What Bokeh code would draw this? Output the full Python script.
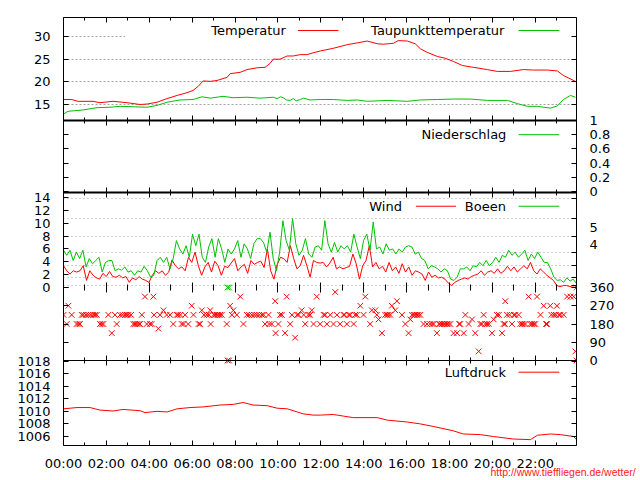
import numpy as np
from bokeh.plotting import figure
from bokeh.models import Range1d, LinearAxis, FixedTicker, Label, Arrow, Grid, BoxAnnotation, Title
from bokeh.embed import file_html
from bokeh.resources import INLINE

# ---------------- data ----------------
T_END = 23.92  # last sample of the day (hours)

hour_ticks = [0, 2, 4, 6, 8, 10, 12, 14, 16, 18, 20, 22]
hour_labels = ["00:00", "02:00", "04:00", "06:00", "08:00", "10:00",
               "12:00", "14:00", "16:00", "18:00", "20:00", "22:00"]
hour_minor = list(range(0, 24))

temp_hours = [0.0, 0.38, 0.68, 1.38, 1.70, 2.31, 2.96, 3.57, 3.90, 4.36, 4.83, 5.30,
              5.76, 6.04, 6.28, 6.51, 6.84, 7.16, 7.63, 7.77, 8.24, 8.56, 9.03, 9.40,
              9.64, 9.78, 10.10, 10.43, 10.71, 11.04, 11.36, 11.64, 11.97, 12.58, 13.23,
              13.70, 14.16, 14.63, 14.91, 15.38, 15.61, 16.03, 16.40, 16.64, 16.96, 17.43,
              17.80, 18.18, 18.60, 19.11, 19.76, 20.23, 20.84, 21.44, 21.91, 22.56, 23.03,
              23.31, 23.87]
temp_values = [16.1, 16.1, 15.7, 15.7, 15.4, 15.7, 15.4, 15.0, 15.1, 15.5, 16.3, 17.0,
               17.6, 18.1, 19.0, 20.2, 20.1, 20.3, 21.0, 21.8, 22.1, 22.7, 23.1, 23.2,
               24.1, 25.0, 25.0, 25.7, 25.7, 26.0, 26.0, 26.4, 26.8, 27.4, 28.2,
               28.6, 29.0, 28.4, 28.3, 28.5, 29.1, 29.0, 28.4, 27.3, 26.5, 25.6,
               25.2, 24.5, 23.6, 23.2, 22.7, 22.3, 22.3, 22.7, 22.6, 22.6, 22.4,
               21.4, 20.1]

dew_hours = [0.0, 0.21, 0.91, 1.56, 2.17, 2.64, 3.24, 3.90, 4.36, 4.83, 5.43, 6.04,
             6.46, 6.84, 7.44, 7.91, 8.56, 9.17, 9.78, 9.96, 10.12, 10.24, 10.40, 10.57,
             10.71, 10.85, 11.04, 11.20, 11.50, 11.97, 12.58, 13.23, 13.70, 14.16, 15.10,
             16.03, 16.64, 17.43, 18.18, 18.97, 19.76, 20.70, 21.16, 21.63, 22.10, 22.70,
             23.03, 23.31, 23.64, 23.87]
dew_values = [12.9, 13.5, 13.8, 14.3, 14.4, 14.6, 14.5, 14.4, 14.8, 15.5, 16.0, 16.1,
              16.7, 16.4, 16.8, 16.5, 16.6, 16.4, 16.6, 16.3, 16.7, 16.5, 16.0, 15.9,
              16.3, 15.8, 16.1, 16.4, 16.0, 16.1, 16.1, 15.9, 16.0, 15.7, 15.9,
              15.7, 16.0, 16.1, 16.2, 16.2, 15.9, 15.9, 15.2, 14.6, 14.6, 14.2,
              14.7, 16.1, 17.0, 16.6]

press_hours = [0.0, 0.63, 1.24, 1.70, 2.31, 2.78, 3.57, 3.80, 4.36, 4.83, 5.30, 5.90,
               6.51, 7.30, 7.91, 8.38, 8.84, 9.50, 9.96, 10.43, 10.90, 11.18, 11.64,
               11.97, 12.58, 13.04, 13.51, 14.63, 15.10, 16.03, 16.64, 17.24, 18.18,
               18.64, 19.44, 20.04, 20.97, 21.77, 22.10, 22.70, 23.17, 23.78, 23.92]
press_values = [1010.4, 1010.6, 1010.6, 1010.2, 1010.05, 1010.3, 1010.1, 1009.8, 1010.0,
                1009.9, 1010.4, 1010.6, 1010.7, 1011.0, 1011.1, 1011.4, 1011.0, 1010.9,
                1010.5, 1010.4, 1009.9, 1009.6, 1009.4, 1009.4, 1009.5, 1009.25, 1009.0,
                1009.0, 1008.6, 1008.3, 1008.0, 1007.6, 1006.9, 1006.4, 1006.3, 1006.0,
                1005.6, 1005.5, 1006.2, 1006.4, 1006.3, 1006.0, 1005.5]

# wind speed and gusts (m/s), samples evenly spread over the day
wind_values = [3.4, 2.6, 2.1, 2.6, 2.4, 2.6, 3.4, 1.1, 2.6, 1.9,
               1.5, 1.3, 2.2, 1.7, 2.5, 1.7, 1.6, 1.9, 1.5, 1.7,
               0.8, 1.5, 1.2, 1.7, 1.3, 1.1, 0.8, 1.9, 2.6, 2.2,
               2.6, 1.9, 2.4, 4.3, 3.4, 2.9, 3.2, 2.6, 4.7, 3.9,
               5.5, 3.4, 1.9, 3.2, 3.9, 2.4, 4.1, 3.4, 1.9, 3.3,
               3.1, 3.8, 4.5, 2.6, 3.2, 3.6, 2.2, 4.2, 3.6, 3.9,
               4.1, 3.1, 6.0, 2.6, 1.3, 3.6, 4.7, 4.5, 3.9, 6.5,
               4.5, 2.9, 3.4, 5.0, 3.4, 1.6, 4.2, 3.9, 3.8,
               3.9, 3.2, 3.8, 4.7, 2.9, 3.2, 2.9, 3.1, 3.3,
               5.2, 3.7, 1.3, 3.4, 4.2, 6.5, 3.2, 3.9, 2.9, 3.3,
               2.4, 3.9, 2.6, 3.2, 2.2, 3.7, 2.4, 3.2, 1.9, 2.6,
               2.4, 2.1, 1.1, 2.4, 1.6, 1.9, 1.5, 1.6, 1.3, 0.7,
               0.3, 0.8, 1.1, 1.3, 1.5, 1.3, 1.7, 1.9, 2.1, 2.6,
               1.9, 2.4, 2.6, 2.2, 2.9, 2.2, 2.6, 3.3, 2.6, 3.2,
               2.4, 2.9, 3.4, 2.9, 3.9, 2.6, 2.1, 2.9, 2.4, 1.9,
               1.5, 1.1, 0.3, 0.15, 0.3, 0.3, 0.15, 0.05, 0.05]
gust_values = [5.8, 5.0, 5.8, 4.2, 5.5, 4.5, 5.8, 3.2, 4.5, 3.7,
               4.2, 4.7, 2.4, 3.9, 4.2, 4.2, 2.6, 2.9, 2.7, 3.2,
               2.4, 2.6, 1.9, 2.6, 2.4, 3.3, 2.6, 1.6, 1.9, 4.2,
               4.7, 3.9, 4.7, 2.9, 4.5, 7.3, 6.0, 5.2, 6.5, 4.7,
               8.3, 6.5, 8.3, 4.7, 3.9, 6.3, 7.6, 4.7, 7.6, 6.0,
               3.9, 6.0, 5.2, 6.0, 7.3, 4.7, 6.8, 6.0, 4.5, 6.8,
               7.6, 7.6, 7.0, 5.5, 8.6, 4.5, 2.6, 5.5, 10.4, 7.3,
               5.8, 10.7, 6.8, 5.0, 5.8, 7.6, 5.2, 4.7, 6.3, 6.5, 5.8,
               10.4, 6.8, 5.5, 7.0, 5.5, 6.5, 6.0, 6.5, 5.5, 8.3,
               6.3, 4.5, 7.3, 8.3, 5.8, 10.2, 6.0, 6.3, 5.2, 6.8,
               5.8, 6.0, 5.2, 6.0, 5.5, 6.3, 6.5, 6.3, 5.2, 5.5,
               4.5, 4.2, 2.9, 3.4, 3.2, 2.9, 2.4, 2.9, 2.6, 1.3,
               1.1, 1.6, 2.9, 2.9, 3.2, 2.6, 3.4, 3.2, 3.9, 3.4,
               4.2, 3.4, 3.9, 4.7, 3.9, 5.0, 4.7, 5.8, 5.0, 5.5,
               4.7, 5.2, 5.8, 4.2, 5.2, 4.5, 5.5, 4.7, 3.9, 3.9,
               2.9, 1.6, 1.1, 1.2, 0.8, 1.5, 1.0, 1.3, 0.6]

# wind direction (degrees)
dir_hours = [0.0, 0.23, 0.15, 0.38, 0.61, 0.77, 0.93, 1.16, 1.39, 1.55, 1.70, 1.86,
             2.09, 2.25, 2.40, 2.48, 2.64, 2.87, 3.03, 3.26, 3.41, 3.57, 3.65, 3.80,
             3.88, 4.11, 4.19, 4.22, 4.42, 4.50, 4.66, 4.81, 4.97, 5.12, 5.28, 5.51,
             5.67, 5.82, 5.98, 6.06, 6.37, 6.45, 6.68, 6.84, 6.86, 7.07, 7.22, 7.38,
             7.61, 7.65, 7.72, 7.77, 7.85, 7.92, 8.08, 8.24, 8.39, 8.55, 8.78, 9.01,
             9.25, 9.40, 9.56, 9.71, 9.87, 9.89, 10.02, 10.18, 10.33, 10.41, 10.57,
             10.65, 10.80, 10.96, 11.11, 11.27, 11.42, 11.58, 11.66, 11.81,
             11.97, 12.13, 12.28, 12.44, 12.59, 12.67, 12.75, 12.90, 13.06, 13.21,
             13.37, 13.53, 13.68, 13.84, 13.99, 14.07, 14.30, 14.38, 14.54, 14.61,
             14.69, 14.85, 15.08, 15.24, 15.31, 15.47, 15.55, 15.78, 15.94, 16.09,
             16.17, 16.33, 16.48, 16.64, 16.79, 16.95, 17.10, 17.26, 17.41, 17.57,
             17.73, 17.88, 18.04, 18.19, 18.35, 18.50, 18.66, 18.74, 18.89, 19.05,
             19.20, 19.36, 19.44, 19.59, 19.67, 19.83, 19.98, 20.06, 20.21, 20.45,
             20.52, 20.60, 20.68, 20.91, 21.07, 21.22, 21.38, 21.54, 21.69, 21.77,
             21.93, 22.08, 22.24, 22.39, 22.55, 22.70, 22.86, 23.01, 23.17, 23.32,
             23.48, 23.64, 23.79, 23.87, 23.92,
             0.70, 0.85, 1.05, 1.27, 1.47, 1.78, 2.75, 2.95, 3.15, 3.33, 3.50, 4.03,
             5.35, 5.45, 5.60, 6.30, 6.55, 6.78, 7.00, 7.15, 7.30, 8.65, 8.90, 9.13,
             9.33, 9.60, 10.10, 10.90, 11.20, 11.50, 12.20, 13.10, 13.30, 13.60,
             15.00, 15.15, 16.25, 16.40, 16.55, 17.20, 17.50, 17.65, 17.80, 17.95,
             18.45, 19.50, 19.75, 20.30, 20.58, 20.80, 21.00, 21.30, 21.45, 21.85,
             22.00, 22.50, 22.75, 22.95, 23.10]
dir_values = [225, 270, 180, 225, 180, 180, 225, 225, 225, 225, 180, 180,
              225, 135, 225, 180, 225, 225, 225, 180, 180, 180, 225, 315,
              180, 180, 315, 225, 157.5, 225, 247.5, 225, 225, 180, 225, 180,
              225, 180, 270, 225, 180, 247.5, 225, 247.5, 180, 225, 225, 225,
              180, 0, 0, 270, 225, 247.5, 225, 315, 180, 225, 225, 225,
              225, 180, 225, 180, 292.5, 135, 180, 225, 135, 315, 180,
              225, 112.5, 225, 247.5, 180, 225, 247.5, 180, 315,
              180, 225, 180, 225, 180, 337.5, 225, 180, 225, 180,
              225, 180, 225, 270, 225, 315, 180, 247.5, 247.5, 225,
              202.5, 135, 225, 225, 270, 247.5, 292.5, 225, 180, 135,
              202.5, 225, 225, 225, 180, 180, 180, 180, 135, 180,
              180, 180, 180, 135, 135, 180, 135, 225, 180, 202.5,
              135, 45, 180, 225, 180, 180, 135, 202.5, 225, 135,
              180, 292.5, 225, 180, 225, 225, 180, 180, 315, 180,
              180, 315, 225, 270, 180, 270, 225, 270, 225, 225,
              315, 315, 315, 45, 0,
              180, 225, 225, 225, 225, 180, 225, 225, 225, 180, 180, 180,
              225, 225, 180, 180, 225, 225, 225, 225, 225, 225, 225, 225,
              225, 180, 225, 225, 225, 225, 225, 225, 225, 225,
              225, 225, 225, 225, 225, 180, 180, 180, 180, 180,
              180, 180, 180, 225, 180, 225, 225, 180, 180, 180,
              180, 180, 225, 225, 225]
gustdir_hours = [7.65, 7.72, 23.92]
gustdir_values = [360, 360, 360]

# axis ticks / labels
temp_ticks = [15, 20, 25, 30]
temp_labels = ["15", "20", "25", "30"]
precip_ticks = [0, 0.2, 0.4, 0.6, 0.8, 1]
precip_labels = ["0", "0.2", "0.4", "0.6", "0.8", "1"]
wind_ticks = [0, 2, 4, 6, 8, 10, 12, 14]
wind_labels = ["0", "2", "4", "6", "8", "10", "12", "14"]
bft_limits = [0.3, 1.6, 3.4, 5.5, 8.0, 10.8, 13.9]
bft_centres = [6.7, 9.35]
bft_labels = ["4", "5"]
dir_ticks = [0, 90, 180, 270, 360]
dir_labels = ["0", "90", "180", "270", "360"]
press_ticks = [1006, 1008, 1010, 1012, 1014, 1016, 1018]
press_labels = ["1006", "1008", "1010", "1012", "1014", "1016", "1018"]

url_text = "http://www.tieffliegen.de/wetter/"

# ---------------- style / layout ----------------
FONT = "DejaVu Sans"
FS = "13px"
RED = "#ff0000"
GREEN = "#00c000"
FRAME_H = 428

p = figure(width=None, height=None, frame_width=513, frame_height=FRAME_H,
           min_border_left=63, min_border_right=64,
           min_border_top=17, min_border_bottom=35,
           x_range=Range1d(0, T_END), y_range=Range1d(FRAME_H, 0),
           x_axis_location=None, y_axis_location=None, title=None,
           toolbar_location=None, output_backend="svg",
           outline_line_color="black", outline_line_width=1,
           background_fill_color="white", border_fill_color="white")
p.center = [r for r in p.center if not isinstance(r, Grid)]


def panel_range(v1, p1, v2, p2):
    s = (v2 - v1) / (p2 - p1)
    return Range1d(start=v1 + (FRAME_H - p1) * s, end=v1 - p1 * s)


def val_at(rng, px):
    return rng.end + (rng.start - rng.end) * px / FRAME_H


def px_of(name, v):
    rng = ranges[name]
    return (rng.end - v) / (rng.end - rng.start) * FRAME_H


ranges = {
    "temp": panel_range(15, 87, 30, 19),
    "precip": panel_range(0, 174, 1, 103),
    "wind": panel_range(0, 270, 14, 180),
    "dir": panel_range(0, 343, 360, 270),
    "press": panel_range(1006, 419, 1018, 343.5),
}
panel_px = {"temp": (0, 103), "precip": (103, 175), "wind": (175, 270),
            "dir": (270, 343), "press": (343, 428)}
p.extra_y_ranges = ranges


def bounds_of(name):
    a, b = panel_px[name]
    v1, v2 = val_at(ranges[name], a - 0.5), val_at(ranges[name], b + 0.5)
    return (min(v1, v2), max(v1, v2))


def ytick_axis(name, side, ticks, tick_len=5):
    ax = LinearAxis(y_range_name=name, fixed_location=(0 if side == "left" else T_END),
                    bounds=bounds_of(name),
                    ticker=FixedTicker(ticks=ticks, minor_ticks=[]),
                    major_tick_in=tick_len, major_tick_out=0,
                    minor_tick_in=0, minor_tick_out=0,
                    axis_line_color="black", major_tick_line_color="black")
    ax.major_label_overrides = {t: "" for t in ticks}
    p.add_layout(ax, side)


def xtick_axis(px, side, t_in, t_out, line_width=1, line_color="black"):
    ax = LinearAxis(fixed_location=px,
                    ticker=FixedTicker(ticks=hour_ticks, minor_ticks=hour_minor),
                    major_tick_in=t_in, major_tick_out=t_out,
                    minor_tick_in=max(t_in - 2, 0), minor_tick_out=max(t_out - 2, 0),
                    axis_line_width=line_width, axis_line_color=line_color,
                    major_tick_line_color="black", minor_tick_line_color="black")
    ax.major_label_overrides = {t: "" for t in hour_ticks}
    p.add_layout(ax, side)


def label_axis(side, ticks, labels, standoff):
    ax = LinearAxis(ticker=FixedTicker(ticks=ticks, minor_ticks=[]),
                    major_tick_in=0, major_tick_out=0, minor_tick_in=0, minor_tick_out=0,
                    axis_line_color=None, major_tick_line_color=None,
                    major_label_standoff=standoff,
                    major_label_text_font=FONT, major_label_text_font_size=FS,
                    major_label_text_color="black")
    ax.major_label_overrides = dict(zip(ticks, labels))
    p.add_layout(ax, side)


# grids
p.add_layout(Grid(dimension=1, y_range_name="temp", ticker=FixedTicker(ticks=temp_ticks),
                  grid_line_color="#a0a0a0", grid_line_dash="2 2", grid_line_width=1))
p.add_layout(Grid(dimension=1, y_range_name="wind", ticker=FixedTicker(ticks=bft_limits),
                  grid_line_color="#a0a0a0", grid_line_dash="1 3", grid_line_width=1))
# opaque key area of the temperature panel
p.add_layout(BoxAnnotation(left=2.87, right=T_END - 0.03, bottom=29.7, top=33.4,
                           y_range_name="temp", fill_color="white", fill_alpha=1,
                           line_color=None, level="underlay"))

# data
p.line(temp_hours, temp_values, y_range_name="temp", line_color=RED, line_width=1)
p.line(dew_hours, dew_values, y_range_name="temp", line_color=GREEN, line_width=1)
wind_hours = np.linspace(0.0, T_END, len(wind_values))
gust_hours = np.linspace(0.0, T_END, len(gust_values))
p.line(wind_hours, wind_values, y_range_name="wind", line_color=RED, line_width=1)
p.line(gust_hours, gust_values, y_range_name="wind", line_color=GREEN, line_width=1)
p.scatter(dir_hours, dir_values, y_range_name="dir", marker="x", size=8,
          line_color=RED, line_width=1)
p.scatter(gustdir_hours, gustdir_values, y_range_name="dir", marker="x", size=8,
          line_color=GREEN, line_width=1)
p.line(press_hours, press_values, y_range_name="press", line_color=RED, line_width=1)

# tick marks
ytick_axis("temp", "left", temp_ticks)
ytick_axis("temp", "right", temp_ticks)
ytick_axis("precip", "left", precip_ticks)
ytick_axis("precip", "right", precip_ticks)
ytick_axis("wind", "left", wind_ticks)
ytick_axis("wind", "right", bft_limits)
ytick_axis("dir", "left", dir_ticks)
ytick_axis("dir", "right", dir_ticks)
ytick_axis("press", "left", press_ticks)
ytick_axis("press", "right", press_ticks)

xtick_axis(0, "above", 5, 0)
xtick_axis(103, "below", 5, 5, line_width=2)
xtick_axis(175, "below", 5, 5, line_width=2)
xtick_axis(270, "below", 5, 5, line_color=None)
xtick_axis(343, "below", 5, 5)
xtick_axis(428, "below", 5, 0)

# tick labels (one label axis per side, positions from the panel scales)
left_pos, left_txt = [], []
for name, ticks, labels in [("temp", temp_ticks, temp_labels),
                            ("wind", wind_ticks, wind_labels),
                            ("press", press_ticks, press_labels)]:
    for t, lab in zip(ticks, labels):
        left_pos.append(px_of(name, t))
        left_txt.append(lab)
right_pos, right_txt = [], []
for name, ticks, labels in [("precip", precip_ticks, precip_labels),
                            ("wind", bft_centres, bft_labels),
                            ("dir", dir_ticks, dir_labels)]:
    for t, lab in zip(ticks, labels):
        right_pos.append(px_of(name, t))
        right_txt.append(lab)
label_axis("left", left_pos, left_txt, 13)
label_axis("right", right_pos, right_txt, 13)
label_axis("below", hour_ticks, hour_labels, 10)

# footer URL
p.add_layout(Title(text=url_text, align="left", offset=427, standoff=-16,
                   vertical_align="top", text_font="Liberation Sans",
                   text_font_size="10.5px", text_font_style="normal",
                   text_color="#ff2020"), "below")


# keys (text then line sample, as in the original)
def key(name, text, x_text, x0, x1, y, color):
    p.add_layout(Label(x=x_text, y=y, y_range_name=name, text=text, text_align="right",
                       text_baseline="middle", text_font=FONT, text_font_size=FS,
                       text_color="black"))
    p.add_layout(Arrow(end=None, x_start=x0, x_end=x1, y_start=y, y_end=y,
                       y_range_name=name, line_color=color, line_width=1))


key("temp", "Temperatur", 10.37, 10.93, 12.82, 31.32, RED)
key("temp", "Taupunkttemperatur", 20.56, 21.22, 23.12, 31.32, GREEN)
key("precip", "Niederschlag", 20.65, 21.22, 23.12, 0.80, GREEN)
key("wind", "Wind", 15.78, 16.43, 18.30, 12.64, RED)
key("wind", "Boeen", 20.63, 21.22, 23.12, 12.64, GREEN)
key("press", "Luftdruck", 20.63, 21.22, 23.12, 1016.22, RED)

open("out.html", "w").write(file_html(p, INLINE))
